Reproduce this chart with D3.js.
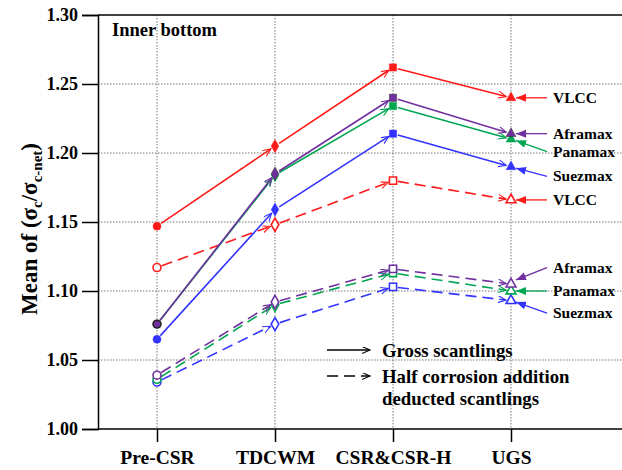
<!DOCTYPE html>
<html>
<head>
<meta charset="utf-8">
<script src="https://cdn.jsdelivr.net/npm/d3@7"></script>
<style>
  body { margin: 0; background: #fff; }
  svg { display: block; font-family: "Liberation Serif", "Times New Roman", serif; font-weight: bold; }
</style>
</head>
<body>
<svg width="622" height="470"></svg>
<script>
const categories = ["Pre-CSR", "TDCWM", "CSR&CSR-H", "UGS"];
const yTicks = [1.0, 1.05, 1.1, 1.15, 1.2, 1.25, 1.3];

// gross scantlings
const grossVLCC = [1.147, 1.205, 1.262, 1.240];
const grossAframax = [1.076, 1.185, 1.240, 1.214];
const grossPanamax = [1.076, 1.184, 1.234, 1.210];
const grossSuezmax = [1.065, 1.159, 1.214, 1.190];

// half corrosion addition deducted scantlings
const halfVLCC = [1.117, 1.148, 1.180, 1.166];
const halfAframax = [1.039, 1.092, 1.116, 1.105];
const halfPanamax = [1.036, 1.090, 1.113, 1.100];
const halfSuezmax = [1.034, 1.076, 1.103, 1.093];

const colors = { VLCC: "#ff1a1a", Aframax: "#7030a0", Panamax: "#00a651", Suezmax: "#3333ff" };

const series = [
  { name: "Suezmax", values: halfSuezmax, dashed: true },
  { name: "Panamax", values: halfPanamax, dashed: true },
  { name: "Aframax", values: halfAframax, dashed: true },
  { name: "VLCC", values: halfVLCC, dashed: true },
  { name: "Suezmax", values: grossSuezmax, dashed: false },
  { name: "Panamax", values: grossPanamax, dashed: false },
  { name: "Aframax", values: grossAframax, dashed: false },
  { name: "VLCC", values: grossVLCC, dashed: false },
];

// label on the right: ship, value it points at, label y value
const labels = [
  { name: "VLCC", at: 1.240, y: 1.240 },
  { name: "Aframax", at: 1.214, y: 1.214 },
  { name: "Panamax", at: 1.209, y: 1.201 },
  { name: "Suezmax", at: 1.189, y: 1.183 },
  { name: "VLCC", at: 1.166, y: 1.166 },
  { name: "Aframax", at: 1.108, y: 1.117 },
  { name: "Panamax", at: 1.100, y: 1.100 },
  { name: "Suezmax", at: 1.092, y: 1.084 },
];

const svg = d3.select("svg");
const mLeft = 98, mTop = 15, mBottom = 429, mRight = 622;

const x = d3.scalePoint().domain(categories).range([157, 511]);
const y = d3.scaleLinear().domain([1.0, 1.3]).range([mBottom, mTop]);

const defs = svg.append("defs");
Object.entries(colors).forEach(([k, c]) => {
  defs.append("marker")
    .attr("id", "open-" + k)
    .attr("markerUnits", "userSpaceOnUse")
    .attr("markerWidth", 12).attr("markerHeight", 10)
    .attr("refX", 8).attr("refY", 3.5)
    .attr("orient", "auto")
    .append("path")
    .attr("d", "M0,0 L8,3.5 L0,7")
    .attr("fill", "none")
    .attr("stroke", c)
    .attr("stroke-width", 1.1);
  defs.append("marker")
    .attr("id", "fill-" + k)
    .attr("markerUnits", "userSpaceOnUse")
    .attr("markerWidth", 14).attr("markerHeight", 10)
    .attr("refX", 10).attr("refY", 4)
    .attr("orient", "auto")
    .append("path")
    .attr("d", "M0,0 L10,4 L0,8 Z")
    .attr("fill", c);
});
defs.append("marker")
  .attr("id", "open-black")
  .attr("markerUnits", "userSpaceOnUse")
  .attr("markerWidth", 12).attr("markerHeight", 10)
  .attr("refX", 8).attr("refY", 3.5)
  .attr("orient", "auto")
  .append("path")
  .attr("d", "M0,0 L8,3.5 L0,7")
  .attr("fill", "none")
  .attr("stroke", "#000")
  .attr("stroke-width", 1.1);

// grid
const grid = svg.append("g").attr("stroke", "#777").attr("stroke-dasharray", "1.5,1.5").attr("stroke-width", 1);
grid.selectAll(".gy").data(yTicks.slice(1, -1)).join("line")
  .attr("x1", mLeft).attr("x2", mRight)
  .attr("y1", (d) => y(d)).attr("y2", (d) => y(d));
grid.selectAll(".gx").data(categories).join("line")
  .attr("x1", (d) => x(d)).attr("x2", (d) => x(d))
  .attr("y1", mTop).attr("y2", mBottom);

// frame top line
svg.append("line").attr("x1", mLeft).attr("x2", mRight).attr("y1", mTop).attr("y2", mTop)
  .attr("stroke", "#000").attr("stroke-width", 1.5);

// axes
const yAxis = svg.append("g")
  .attr("transform", `translate(${mLeft},0)`)
  .call(d3.axisLeft(y).tickValues(yTicks).tickFormat(d3.format(".2f")).tickSize(16).tickPadding(4));
const xAxis = svg.append("g")
  .attr("transform", `translate(0,${mBottom})`)
  .call(d3.axisBottom(x).tickSize(13).tickPadding(8));
xAxis.select(".domain").attr("d", `M${mLeft},0H${mRight}`);
[yAxis, xAxis].forEach((g) => {
  g.select(".domain").attr("stroke-width", 1.5);
  g.selectAll(".tick line").attr("stroke-width", 1.5);
  g.selectAll("text").attr("font-family", "Liberation Serif").attr("font-weight", "bold")
    .attr("fill", "#000");
});
yAxis.selectAll("text").attr("font-size", 18);
xAxis.selectAll("text").attr("font-size", 19.5);

// y title
const title = svg.append("text")
  .attr("transform", "translate(37,229) rotate(-90)")
  .attr("text-anchor", "middle")
  .attr("font-size", 23);
title.append("tspan").text("Mean of (σ");
title.append("tspan").attr("font-size", 15).attr("dy", 5).text("c");
title.append("tspan").attr("dy", -5).text("/σ");
title.append("tspan").attr("font-size", 15).attr("dy", 5).text("c-net");
title.append("tspan").attr("dy", -5).text(")");

svg.append("text").attr("x", 112).attr("y", 36).attr("font-size", 18.5).text("Inner bottom");

// lines, segment by segment with arrowheads
const symbols = [d3.symbolCircle, d3.symbolDiamond, d3.symbolSquare, d3.symbolTriangle];
const symSizes = [50, 50, 52, 42];
const gap = 5;

series.forEach((s) => {
  const c = colors[s.name];
  const g = svg.append("g");
  const pts = s.values.map((v, i) => [x(categories[i]), y(v)]);
  for (let i = 0; i < pts.length - 1; i++) {
    const [x0, y0] = pts[i], [x1, y1] = pts[i + 1];
    const len = Math.hypot(x1 - x0, y1 - y0);
    const ux = (x1 - x0) / len, uy = (y1 - y0) / len;
    g.append("line")
      .attr("x1", x0 + ux * gap).attr("y1", y0 + uy * gap)
      .attr("x2", x1 - ux * gap).attr("y2", y1 - uy * gap)
      .attr("stroke", c)
      .attr("stroke-width", 1.6)
      .attr("stroke-dasharray", s.dashed ? "11,6" : null)
      .attr("marker-end", `url(#open-${s.name})`);
  }
  g.selectAll("path.pt").data(s.values).join("path")
    .attr("class", "pt")
    .attr("transform", (d, i) => `translate(${x(categories[i])},${y(d)})`)
    .attr("d", (d, i) => d3.symbol(symbols[i], symSizes[i])())
    .attr("fill", s.dashed ? "#fff" : c)
    .attr("stroke", !s.dashed && s.name === "Aframax" ? "#222" : c)
    .attr("stroke-width", (d, i) => (!s.dashed && s.name === "Aframax" && i === 0 ? 1.5 : s.dashed ? 1.6 : 0.5));
});

// right-hand labels with arrows
const lab = svg.append("g");
labels.forEach((l) => {
  const c = colors[l.name];
  const ux = x("UGS");
  lab.append("line")
    .attr("x1", 547).attr("y1", y(l.y))
    .attr("x2", ux + 5).attr("y2", y(l.at))
    .attr("stroke", c).attr("stroke-width", 1.3)
    .attr("marker-end", `url(#fill-${l.name})`);
  lab.append("text")
    .attr("x", 553).attr("y", y(l.y) + 5)
    .attr("font-size", 15.5)
    .text(l.name);
});

// legend
const leg = svg.append("g");
leg.append("line").attr("x1", 327).attr("x2", 370).attr("y1", 350).attr("y2", 350)
  .attr("stroke", "#000").attr("stroke-width", 1.5).attr("marker-end", "url(#open-black)");
leg.append("line").attr("x1", 327).attr("x2", 370).attr("y1", 376).attr("y2", 376)
  .attr("stroke", "#000").attr("stroke-width", 1.5).attr("stroke-dasharray", "11,6")
  .attr("marker-end", "url(#open-black)");
leg.append("text").attr("x", 382).attr("y", 357).attr("font-size", 18.8).text("Gross scantlings");
leg.append("text").attr("x", 382).attr("y", 383).attr("font-size", 18.8).text("Half corrosion addition");
leg.append("text").attr("x", 382).attr("y", 405).attr("font-size", 18.8).text("deducted scantlings");
</script>
</body>
</html>
